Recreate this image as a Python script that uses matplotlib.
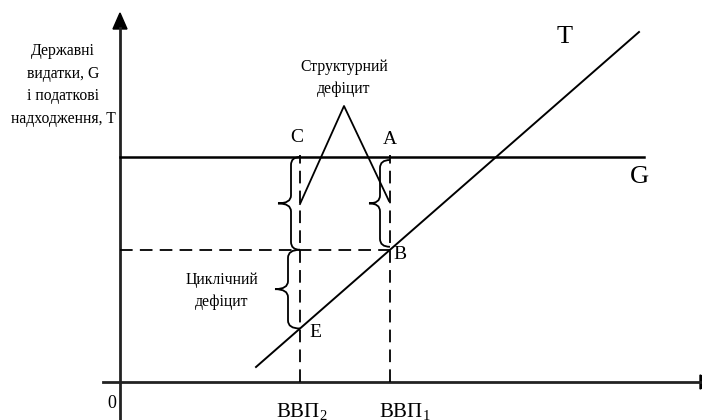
import numpy as np
import matplotlib
matplotlib.use("Agg")
import matplotlib.pyplot as plt
from matplotlib.path import Path
from matplotlib.patches import PathPatch, Polygon

plt.rcParams['font.family'] = ['Liberation Serif', 'DejaVu Serif']
plt.rcParams['mathtext.fontset'] = 'custom'
plt.rcParams['mathtext.rm'] = 'Liberation Serif'
plt.rcParams['mathtext.it'] = 'Liberation Serif'

# schematic values (units ~ pixels from the origin)
G_level = 225
gdp = [180, 270]            # ВВП2, ВВП1
gdp_labels = ['ВВП$_2$', 'ВВП$_1$']
T_x = [136, 519]
T_y = [15, 350]
y_label = 'Державні\nвидатки, G\nі податкові\nнадходження, T'


def t_at(x):
    return np.interp(x, T_x, T_y)


def brace(ax, x_end, y_lo, y_hi, spine=9, tip=22, lw=1.3):
    xs = x_end - spine
    xt = x_end - tip
    ym = (y_lo + y_hi) / 2
    r = 8
    verts = [
        (x_end, y_hi), (xs, y_hi), (xs, y_hi - r),
        (xs, ym + r),
        (xs, ym), (xt, ym),
        (xs, ym), (xs, ym - r),
        (xs, y_lo + r),
        (xs, y_lo), (x_end, y_lo),
    ]
    codes = [Path.MOVETO, Path.CURVE3, Path.CURVE3,
             Path.LINETO,
             Path.CURVE3, Path.CURVE3,
             Path.CURVE3, Path.CURVE3,
             Path.LINETO,
             Path.CURVE3, Path.CURVE3]
    ax.add_patch(PathPatch(Path(verts, codes), fill=False, lw=lw, color='black'))


fig = plt.figure(figsize=(7.02, 4.2), dpi=100)
ax = fig.add_axes([0, 0, 1, 1])
ax.set_xlim(-120, 582)
ax.set_ylim(-38, 382)
ax.axis('off')

# axes with arrows
ax.plot([0, 0], [-38, 354], color='#222222', lw=2)
ax.add_patch(Polygon([[-7, 353], [7, 353], [0, 369]], closed=True, color='black'))
ax.plot([-17, 580], [0, 0], color='#222222', lw=2)
ax.add_patch(Polygon([[580, -7], [580, 7], [596, 0]], closed=True, color='black'))

# G and T lines
ax.plot([0, 524], [G_level, G_level], color='black', lw=1.8)
ax.plot(T_x, T_y, color='black', lw=1.4)

tB = t_at(gdp[1])
tE = t_at(gdp[0])

# dashed guides
dash = dict(color='black', lw=1.3, dashes=(7, 4))
for g in gdp:
    ax.plot([g, g], [0, G_level + 2], **dash)
ax.plot([0, gdp[1]], [tB, tB], **dash)

# braces
brace(ax, gdp[0], tB, G_level)
brace(ax, gdp[0], tE, tB, spine=12, tip=25)
brace(ax, gdp[1], tB + 3, G_level - 3, spine=10, tip=21)

# structural deficit pointers
apex = (224, 276)
ax.plot([gdp[0], apex[0], gdp[1] - 1], [178, apex[1], 181], color='black', lw=1.3)

# texts
fs = 11.3
ax.text(224, 304, 'Структурний\nдефіцит', ha='center', va='center', fontsize=fs,
        linespacing=1.5)
ax.text(102, 91, 'Циклічний\nдефіцит', ha='center', va='center', fontsize=fs,
        linespacing=1.55)
ax.text(-57, 297, y_label, ha='center', va='center', fontsize=fs, linespacing=1.55)

ax.text(177, 245, 'C', ha='center', va='center', fontsize=14)
ax.text(270, 242, 'A', ha='center', va='center', fontsize=14)
ax.text(gdp[1] + 3, tB - 5, 'B', ha='left', va='center', fontsize=14)
ax.text(gdp[0] + 9, tE - 4, 'E', ha='left', va='center', fontsize=14)
ax.text(445, 345, 'T', ha='center', va='center', fontsize=19)
ax.text(519, 205, 'G', ha='center', va='center', fontsize=19)
ax.text(-8, -21, '0', ha='center', va='center', fontsize=13)

for g, lab, dx in zip(gdp, gdp_labels, [2, 15]):
    ax.text(g + dx, -29, lab, ha='center', va='center', fontsize=15)

fig.savefig('out.png', dpi=100)
